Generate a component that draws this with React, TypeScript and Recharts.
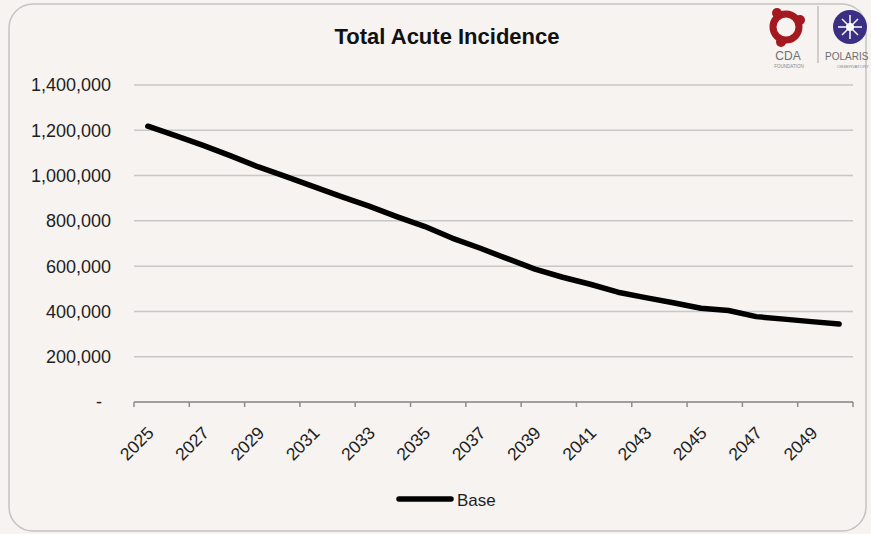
import React from 'react';
import { LineChart, Line, XAxis, YAxis, CartesianGrid } from 'recharts';

const years = [2025, 2026, 2027, 2028, 2029, 2030, 2031, 2032, 2033, 2034, 2035, 2036, 2037, 2038, 2039, 2040, 2041, 2042, 2043, 2044, 2045, 2046, 2047, 2048, 2049, 2050];
const baseValues = [1218000, 1176000, 1133000, 1087000, 1038000, 995000, 951000, 907000, 865000, 819000, 776000, 724000, 680000, 633000, 587000, 551000, 520000, 485000, 461000, 438000, 414000, 404000, 377000, 366000, 355000, 344000];
const labelYears = [2025, 2027, 2029, 2031, 2033, 2035, 2037, 2039, 2041, 2043, 2045, 2047, 2049];
const yTicks = [0, 200000, 400000, 600000, 800000, 1000000, 1200000, 1400000];

const FONT = '"Liberation Sans", Arial, sans-serif';
const BG = '#f6f3f0';

const data = years.map((year, i) => ({ year, base: baseValues[i] }));
// tick marks sit between categories, labels on category centres
const boundaries = [...labelYears.map((y) => y - 0.5), years[years.length - 1] + 0.5];
const xTicks = [...boundaries, ...labelYears].sort((a, b) => a - b);

const XTick = (props: any) => {
  const { x, y, payload } = props;
  const v = payload.value;
  if (!Number.isInteger(v)) {
    return <line x1={x} x2={x} y1={y} y2={y + 5} stroke="#8c8c8c" strokeWidth={1.5} />;
  }
  const tx = x + 7;
  const ty = y + 32;
  return (
    <text x={tx} y={ty} transform={`rotate(-45, ${tx}, ${ty})`} textAnchor="end" fontSize={17.5} fill="#1e1e1e" fontFamily={FONT}>
      {v}
    </text>
  );
};

const YTick = (props: any) => {
  const { x, y, payload } = props;
  const v = payload.value;
  const label = v === 0 ? '-' : v.toLocaleString('en-US');
  return (
    <text x={v === 0 ? x - 9 : x} y={y} dy="0.355em" textAnchor="end" fontSize={18} fill="#1e1e1e" fontFamily={FONT}>
      {label}
    </text>
  );
};

const App = () => {
  return (
    <div style={{ position: 'absolute', left: 0, top: 0, width: 871, height: 534, background: BG, overflow: 'hidden' }}>
      <svg width={871} height={534} style={{ position: 'absolute', left: 0, top: 0 }}>
        <rect x={9} y={4} width={857} height={527} rx={24} fill="none" stroke="#c4c4c4" strokeWidth={1.5} />
        <text x={447} y={44} textAnchor="middle" fontSize={22} fontWeight="bold" fill="#111" fontFamily={FONT}>
          Total Acute Incidence
        </text>
        {/* CDA Foundation mark */}
        <g>
          <circle cx={786} cy={27} r={13} fill="none" stroke="#a3191f" strokeWidth={7} />
          <circle cx={777} cy={13} r={5} fill="#a3191f" />
          <circle cx={800} cy={20} r={5} fill="#a3191f" />
          <circle cx={781} cy={42} r={5} fill="#a3191f" />
          <path d="M783 22 L792 28 L782 33 Z" fill={BG} />
          <text x={788} y={60} textAnchor="middle" fontSize={12} fill="#6f6f6f" fontFamily={FONT}>CDA</text>
          <text x={789} y={68} textAnchor="middle" fontSize={4.5} fill="#8a8a8a" fontFamily={FONT}>FOUNDATION</text>
        </g>
        <line x1={818} x2={818} y1={6} y2={63} stroke="#b5b5b5" strokeWidth={1.2} />
        {/* Polaris Observatory mark */}
        <g>
          <circle cx={850} cy={27} r={17} fill="#3b2f84" />
          <g stroke="#ffffff" strokeWidth={1.5}>
            <line x1={838} y1={27} x2={862} y2={27} />
            <line x1={850} y1={15} x2={850} y2={39} />
            <line x1={842} y1={19} x2={858} y2={35} />
            <line x1={858} y1={19} x2={842} y2={35} />
          </g>
          <circle cx={850} cy={27} r={4} fill="#ffffff" />
          <text x={825} y={60} fontSize={10} fill="#6f6f6f" fontFamily={FONT}>POLARIS</text>
          <text x={837} y={68} fontSize={4.3} fill="#8a8a8a" fontFamily={FONT}>OBSERVATORY</text>
        </g>
        {/* legend */}
        <line x1={399} x2={451} y1={499} y2={499} stroke="#000" strokeWidth={5.5} strokeLinecap="round" />
        <text x={457} y={506} fontSize={17} fill="#1e1e1e" fontFamily={FONT}>Base</text>
      </svg>
      <div style={{ position: 'absolute', left: 0, top: 0 }}>
        <LineChart width={871} height={534} data={data} margin={{ top: 85, right: 18, bottom: 0, left: 0 }}>
          <CartesianGrid vertical={false} stroke="#c8c8c8" strokeWidth={1.5} />
          <XAxis
            dataKey="year"
            type="number"
            domain={[2024.5, 2050.5]}
            ticks={xTicks}
            interval={0}
            tick={<XTick />}
            tickLine={false}
            tickSize={0}
            tickMargin={0}
            axisLine={{ stroke: '#8c8c8c', strokeWidth: 1.5 }}
            height={132}
          />
          <YAxis
            domain={[0, 1400000]}
            ticks={yTicks}
            interval={0}
            width={134}
            tick={<YTick />}
            tickLine={false}
            tickSize={0}
            tickMargin={23}
            axisLine={false}
          />
          <Line
            type="linear"
            dataKey="base"
            stroke="#000000"
            strokeWidth={5.5}
            strokeLinecap="round"
            strokeLinejoin="round"
            dot={false}
            activeDot={false}
            isAnimationActive={false}
          />
        </LineChart>
      </div>
    </div>
  );
};

export default App;
